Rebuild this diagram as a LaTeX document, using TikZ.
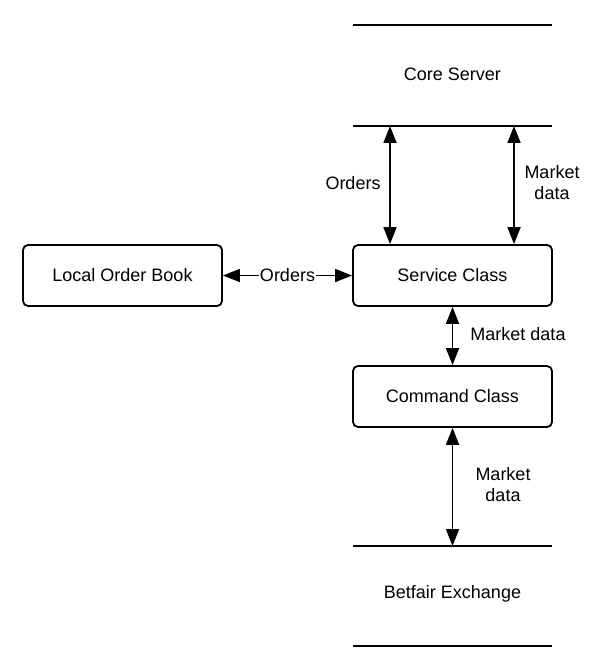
\documentclass[tikz,border=0pt]{standalone}
\usepackage{fontspec}
\setmainfont{Liberation Sans}
\usetikzlibrary{arrows.meta,positioning}

\begin{document}
\begin{tikzpicture}[x=1pt,y=-1pt,line width=1.8pt,
  box/.style={rectangle,rounded corners=5pt,draw=black,minimum width=199pt,minimum height=61pt,font=\fontsize{18}{21}\selectfont},
  lbl/.style={font=\fontsize{18}{21}\selectfont,align=center},
  both/.style={{Triangle[length=17pt,width=13pt]}-{Triangle[length=17pt,width=13pt]}}]
\useasboundingbox (0,0) rectangle (608,671);
\node at (122.5,275.5) [box] (LocalOrderBook) {Local Order Book};
\node at (452.5,275.5) [box] (ServiceClass) {Service Class};
\node at (452.5,396.5) [box] (CommandClass) {Command Class};
\node at (452.5,74) [lbl] (CoreServer) {Core Server};
\node at (452.5,594) [lbl] (Betfair) {Betfair Exchange};
\coordinate (CoreTopL) at (353,25);
\coordinate (CoreTopR) at (552,25);
\coordinate (CoreBotL) at (353,126);
\coordinate (CoreBotR) at (552,126);
\coordinate (BetfairTopL) at (353,546);
\coordinate (BetfairTopR) at (552,546);
\coordinate (BetfairBotL) at (353,646);
\coordinate (BetfairBotR) at (552,646);
\coordinate (CoreA) at (390,126);
\coordinate (CoreB) at (514,126);
\coordinate (BetfairA) at (452.5,546);
\draw (CoreTopL) -- (CoreTopR);
\draw (CoreBotL) -- (CoreBotR);
\draw (BetfairTopL) -- (BetfairTopR);
\draw (BetfairBotL) -- (BetfairBotR);
\draw [both] (CoreA) -- (CoreA |- ServiceClass.north);
\draw [both] (CoreB) -- (CoreB |- ServiceClass.north);
\draw [both] (ServiceClass.south) -- (CommandClass.north);
\draw [both] (CommandClass.south) -- (BetfairA);
\draw [both] (LocalOrderBook.east) -- node [lbl,fill=white,inner sep=1pt] {Orders} (ServiceClass.west);
\node at (353,183) [lbl] {Orders};
\node at (552,183) [lbl] {Market\\data};
\node at (518,334) [lbl] {Market data};
\node at (503,485) [lbl] {Market\\data};
\end{tikzpicture}
\end{document}
